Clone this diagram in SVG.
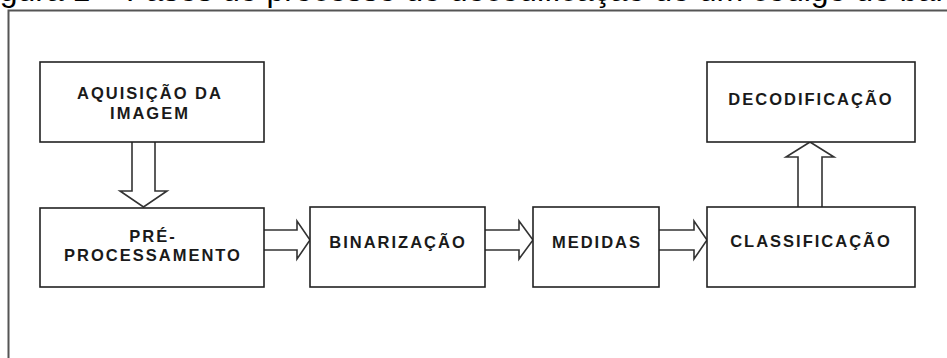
<svg xmlns="http://www.w3.org/2000/svg" width="947" height="358" viewBox="0 0 947 358">
<style>
.box{fill:#fff;stroke:#222;stroke-width:1.6}
.arr{fill:#fff;stroke:#333;stroke-width:1.6;stroke-linejoin:miter}
.lbl{font-family:"Liberation Sans",Arial,sans-serif;font-weight:bold;font-size:16.5px;letter-spacing:2px;fill:#1a1a1a;text-anchor:middle}
.cap{font-family:"Liberation Sans",Arial,sans-serif;font-size:32px;fill:#000}
</style>
<rect width="947" height="358" fill="#fff"/>
<text class="cap" x="-27" y="0.5">Figura 1 – Fases do processo de decodificação de um código de barras</text>
<path d="M8.5 358 V10.5 H947" fill="none" stroke="#555" stroke-width="2"/>
<g id="connectors">
<path class="arr" d="M132 142 V191 H120 L143.5 207 L167 191 H155 V142"/>
<path class="arr" d="M264 230 H297 V221 L310 240 L297 259 V250 H264"/>
<path class="arr" d="M485 230 H519 V221 L533 240 L519 259 V250 H485"/>
<path class="arr" d="M659 230 H694 V221 L707 240 L694 259 V250 H659"/>
<path class="arr" d="M798 207 V157 H786 L810 142 L834 157 H822 V207"/>
</g>
<g id="aquisicao">
<rect class="box" x="40" y="62" width="224" height="80"/>
<text class="lbl" x="150" y="99">AQUISIÇÃO DA</text>
<text class="lbl" x="150" y="119">IMAGEM</text>
</g>
<g id="preprocessamento">
<rect class="box" x="40" y="208" width="224" height="79"/>
<text class="lbl" x="153" y="242">PRÉ-</text>
<text class="lbl" x="153" y="261">PROCESSAMENTO</text>
</g>
<g id="binarizacao">
<rect class="box" x="310" y="207" width="175" height="80"/>
<text class="lbl" x="398" y="248">BINARIZAÇÃO</text>
</g>
<g id="medidas">
<rect class="box" x="533" y="207" width="126" height="80"/>
<text class="lbl" x="597" y="248">MEDIDAS</text>
</g>
<g id="classificacao">
<rect class="box" x="707" y="207" width="208" height="80"/>
<text class="lbl" x="811" y="247">CLASSIFICAÇÃO</text>
</g>
<g id="decodificacao">
<rect class="box" x="707" y="62" width="208" height="80"/>
<text class="lbl" x="811" y="105">DECODIFICAÇÃO</text>
</g>
</svg>
